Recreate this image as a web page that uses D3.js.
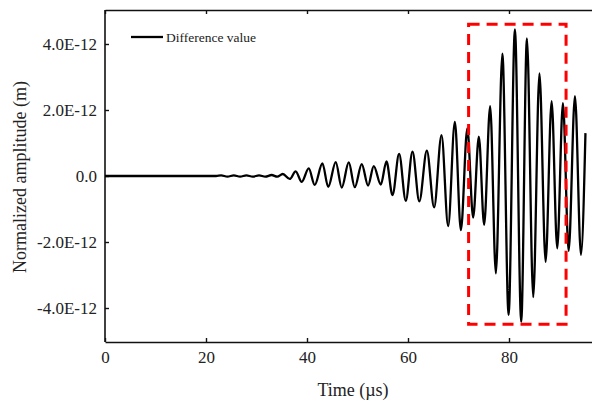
<!DOCTYPE html>
<html>
<head>
<meta charset="utf-8">
<script src="https://cdn.jsdelivr.net/npm/d3@7"></script>
<style>
  html, body { margin: 0; padding: 0; background: #fff; }
  svg { display: block; font-family: "Liberation Serif", "Times New Roman", serif; }
</style>
</head>
<body>
<svg id="chart" width="592" height="403"></svg>
<script>
// ---- data (amplitude in units of 1E-12 m, time in µs) ----
const timeUs = [0, 22.0, 23.0, 24.25, 25.5, 26.75, 28.0, 29.25, 30.5, 31.75, 33.0, 34.1, 35.2,
  36.58, 37.76, 38.95, 40.34, 41.53, 43.05, 44.20, 45.69, 46.88, 48.27, 49.46, 50.84, 52.09,
  53.22, 54.61, 55.74, 56.93, 58.24, 59.56, 60.89, 62.24, 63.73, 65.17, 66.64, 67.95, 69.28,
  70.47, 71.75, 72.90, 74.03, 75.08, 76.27, 77.40, 78.69, 79.92, 81.17, 82.42, 83.55, 84.80,
  86.03, 87.25, 88.44, 89.55, 90.68, 91.81, 93.06, 94.25, 95.14];
const amplitudeE12 = [0, 0, 0.02, -0.02, 0.02, -0.02, 0.02, -0.02, 0.02, -0.02, 0.03, -0.02, 0.06,
  -0.09, 0.14, -0.18, 0.23, -0.27, 0.38, -0.33, 0.42, -0.35, 0.41, -0.34, 0.36, -0.29,
  0.30, -0.26, 0.44, -0.58, 0.67, -0.75, 0.74, -0.77, 0.77, -0.95, 1.24, -1.52, 1.64,
  -1.64, 1.44, -1.26, 1.19, -1.48, 2.12, -2.95, 3.71, -4.21, 4.44, -4.42, 4.17, -3.67,
  3.11, -2.60, 2.27, -2.19, 2.21, -2.27, 2.42, -2.39, 1.30];
const xTicks = [0, 20, 40, 60, 80];
const yTicks = [-4, -2, 0, 2, 4];
const yTickLabels = ["-4.0E-12", "-2.0E-12", "0.0", "2.0E-12", "4.0E-12"];
const seriesName = "Difference value";
const highlightBox = [72.0, 91.3, -4.49, 4.60]; // x0, x1, y0, y1 in data units
const xTitle = "Time (\u00b5s)";
const yTitle = "Normalized amplitude (m)";

// ---- layout ----
const svg = d3.select("#chart");
const mLeft = 105, mRight = 610, mTop = 10, mBottom = 342;
const x = d3.scaleLinear().domain([0, 100]).range([mLeft, mRight]);
const y = d3.scaleLinear().domain([-5.03, 5.03]).range([mBottom, mTop]);

svg.append("rect").attr("width", 592).attr("height", 403).attr("fill", "#fff");

// axes
const axB = svg.append("g").attr("transform", `translate(0,${mBottom})`)
  .call(d3.axisBottom(x).tickValues(xTicks).tickSizeInner(-4).tickSizeOuter(0).tickPadding(9)
    .tickFormat(d3.format("d")));
const axT = svg.append("g").attr("transform", `translate(0,${mTop})`)
  .call(d3.axisTop(x).tickValues(xTicks).tickSizeInner(-4).tickSizeOuter(0).tickFormat(""));
const axL = svg.append("g").attr("transform", `translate(${mLeft},0)`)
  .call(d3.axisLeft(y).tickValues(yTicks).tickSizeInner(-4).tickSizeOuter(0).tickPadding(8)
    .tickFormat(d => yTickLabels[yTicks.indexOf(d)]));
const axR = svg.append("g").attr("transform", `translate(${mRight},0)`)
  .call(d3.axisRight(y).tickValues(yTicks).tickSizeInner(-4).tickSizeOuter(0).tickFormat(""));

[axB, axT, axL, axR].forEach(g => {
  g.select(".domain").attr("stroke", "#111").attr("stroke-width", 1.6);
  g.selectAll(".tick line").attr("stroke", "#111").attr("stroke-width", 1.4);
  g.selectAll("text").attr("fill", "#222").style("font-size", "17px")
    .style("font-family", "'Liberation Serif', 'Times New Roman', serif");
});
axL.select(".domain").attr("d", `M0,${mTop}V${mBottom}`);
axR.select(".domain").attr("d", `M0,${mTop}V${mBottom}`);

// titles
svg.append("text").attr("x", 353).attr("y", 396).attr("text-anchor", "middle")
  .style("font-size", "18px").attr("fill", "#222").text(xTitle);
svg.append("text").attr("transform", "translate(26,177) rotate(-90)").attr("text-anchor", "middle")
  .style("font-size", "18px").attr("fill", "#222").text(yTitle);

// waveform
const data = timeUs.map((t, i) => ({ t, v: amplitudeE12[i] }));
const line = d3.line().x(d => x(d.t)).y(d => y(d.v)).curve(d3.curveMonotoneX);
svg.append("path").datum(data).attr("d", line).attr("fill", "none")
  .attr("stroke", "#000").attr("stroke-width", 2.3).attr("stroke-linejoin", "round");

// highlight box
svg.append("rect")
  .attr("x", x(highlightBox[0])).attr("y", y(highlightBox[3]))
  .attr("width", x(highlightBox[1]) - x(highlightBox[0]))
  .attr("height", y(highlightBox[2]) - y(highlightBox[3]))
  .attr("fill", "none").attr("stroke", "#ff0000").attr("stroke-width", 3)
  .attr("stroke-dasharray", "11,7");

// legend
const lg = svg.append("g");
lg.append("line").attr("x1", 131).attr("x2", 163).attr("y1", 37).attr("y2", 37)
  .attr("stroke", "#000").attr("stroke-width", 2.3);
lg.append("text").attr("x", 166).attr("y", 41.5).style("font-size", "13.5px")
  .attr("fill", "#222").text(seriesName);
</script>
</body>
</html>
